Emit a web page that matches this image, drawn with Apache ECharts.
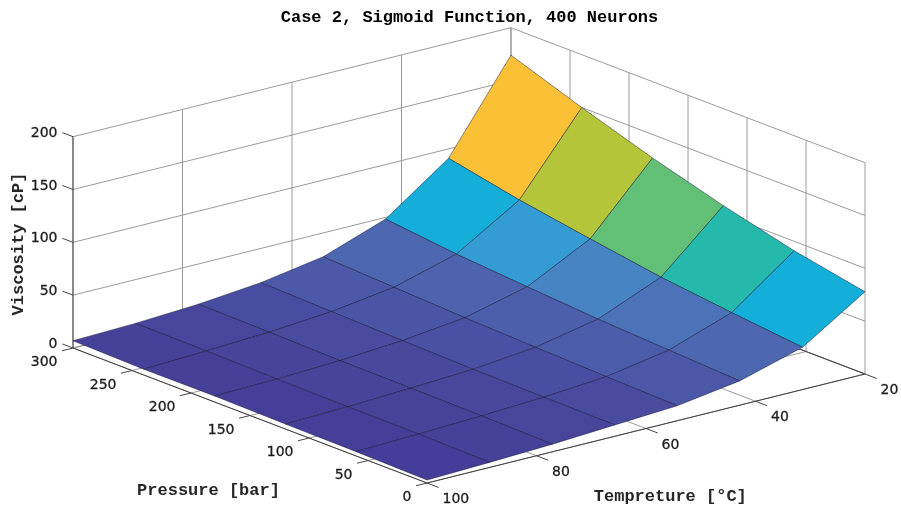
<!DOCTYPE html>
<html><head><meta charset="utf-8">
<style>html,body{margin:0;padding:0;background:#fff}#c{width:901px;height:510px}</style>
<script src="https://cdn.jsdelivr.net/npm/echarts@6/dist/echarts.min.js"></script>
</head><body><div id="c"></div>
<script>
const temperatures = [20, 31.4, 42.9, 54.3, 65.7, 77.1, 88.6, 100];
const pressures = [0, 60, 120, 180, 240, 300];
const viscosityP0   = [77.9, 40.0, 23.0, 14.2, 10.7, 7.2, 4.8, 2.8];
const viscosityP60  = [91.1, 47.2, 26.6, 16.1, 11.4, 8.4, 6.1, 4.1];
const viscosityP120 = [108.2, 55.2, 30.4, 18.4, 12.3, 9.1, 6.3, 4.7];
const viscosityP180 = [127.8, 65.9, 35.4, 20.8, 13.8, 9.6, 7.0, 5.7];
const viscosityP240 = [150.0, 77.2, 40.8, 24.0, 15.7, 11.0, 8.0, 5.5];
const viscosityP300 = [174.0, 91.1, 48.4, 27.4, 17.6, 11.9, 8.6, 6.9];
const viscosityRows = [viscosityP0, viscosityP60, viscosityP120, viscosityP180, viscosityP240, viscosityP300];
const temperatureTicks = [20, 40, 60, 80, 100];
const pressureTicks = [0, 50, 100, 150, 200, 250, 300];
const viscosityTicks = [0, 50, 100, 150, 200];
const titleText = 'Case 2, Sigmoid Function, 400 Neurons';
const pressureName = 'Pressure [bar]';
const temperatureName = 'Tempreture [°C]';
const viscosityName = 'Viscosity [cP]';
const palette = ['#41369a','#474399','#4a50a3','#4b5caa','#4d62ad','#4d6bb3','#4a7dbf','#4190ce','#2aa3d6','#12b0d8','#1ab7b5','#2fbb9f','#52be82','#74c066','#9cc445','#c0c634','#dcc437','#f9c038','#fdc535','#fbd82a','#f9f01e'];

// Orthographic view of the axes box, as an origin and one screen vector per axis.
const origin = [511, 239];               // T=20, P=300, V=0
const tVec = [-438, 109], pVec = [354, 135], vVec = [0, -211.3];
const lm = echarts.number.linearMap;
function project(T, P, V) {
  const u = lm(T, [20, 100], [0, 1]), w = lm(P, [300, 0], [0, 1]), h = lm(V, [0, 200], [0, 1]);
  return [origin[0] + u * tVec[0] + w * pVec[0] + h * vVec[0],
          origin[1] + u * tVec[1] + w * pVec[1] + h * vVec[1]];
}
const colorMax = Math.max(...viscosityRows.flat());

const gridSegs = [];
temperatureTicks.forEach(T => {
  gridSegs.push([T, 300, 0, T, 300, 200]);
  gridSegs.push([T, 300, 0, T, 0, 0]);
});
pressureTicks.forEach(P => {
  gridSegs.push([20, P, 0, 20, P, 200]);
  gridSegs.push([100, P, 0, 20, P, 0]);
});
viscosityTicks.forEach(V => {
  gridSegs.push([100, 300, V, 20, 300, V]);
  gridSegs.push([20, 300, V, 20, 0, V]);
});

const axisSegs = [
  [100, 300, 0, 100, 300, 200],
  [100, 300, 0, 100, 0, 0],
  [100, 0, 0, 20, 0, 0],
  [20, 300, 0, 20, 0, 0]
];
temperatureTicks.forEach(T => axisSegs.push([T, 0, 0, T, -9.9, 0]));
pressureTicks.forEach(P => axisSegs.push([100, P, 0, 102, P, 0]));
viscosityTicks.forEach(V => axisSegs.push([100, 300, V, 100, 309, V]));

const cells = [];
for (let p = pressures.length - 2; p >= 0; p--)
  for (let t = 0; t < temperatures.length - 1; t++) cells.push([t, p]);

const tickFont = '14px "DejaVu Sans"';
const nameFont = 'bold 17px "Liberation Mono"';
const labels = [];
viscosityTicks.forEach(V => labels.push(['v', String(V), 100, 300, V]));
pressureTicks.forEach(P => labels.push(['p', String(P), 100, P, 0]));
temperatureTicks.forEach(T => labels.push(['t', String(T), T, 0, 0]));
const labelOffset = { v: [-15.5, -3.5, 'right'], p: [-15.5, 14.5, 'right'], t: [15.5, 16.5, 'left'] };

function segSeries(data, stroke, width) {
  return {
    type: 'custom', coordinateSystem: 'none', silent: true, animation: false, data,
    renderItem(params, api) {
      const a = project(api.value(0), api.value(1), api.value(2));
      const b = project(api.value(3), api.value(4), api.value(5));
      return { type: 'line', shape: { x1: a[0], y1: a[1], x2: b[0], y2: b[1] },
               style: { stroke, lineWidth: width, fill: null } };
    }
  };
}

const chart = echarts.init(document.getElementById('c'), null, { renderer: 'canvas', width: 901, height: 510 });
chart.setOption({
  animation: false,
  backgroundColor: '#ffffff',
  title: { text: titleText, left: 464.5, top: 4, textAlign: 'center',
           textStyle: { fontFamily: 'Liberation Mono', fontWeight: 'bold', fontSize: 17, color: '#000' } },
  series: [
    segSeries(gridSegs, '#8f8f8f', 0.9),
    segSeries(axisSegs, '#444444', 1),
    {
      type: 'custom', coordinateSystem: 'none', silent: true, animation: false, data: cells,
      renderItem(params, api) {
        const t = api.value(0), p = api.value(1);
        const corner = (a, b) => project(temperatures[a], pressures[b], viscosityRows[b][a]);
        return { type: 'polygon',
          shape: { points: [corner(t, p), corner(t + 1, p), corner(t + 1, p + 1), corner(t, p + 1)] },
          style: { fill: echarts.color.lerp(viscosityRows[p][t] / colorMax, palette),
                   stroke: 'rgba(20,20,50,0.8)', lineWidth: 0.6, lineJoin: 'round' } };
      }
    },
    {
      type: 'custom', coordinateSystem: 'none', silent: true, animation: false,
      data: labels.map((l, i) => [i]),
      renderItem(params) {
        const l = labels[params.dataIndex];
        const o = labelOffset[l[0]];
        const pt = project(l[2], l[3], l[4]);
        return { type: 'text', x: pt[0] + o[0], y: pt[1] + o[1],
          style: { text: l[1], font: tickFont, fill: '#1c1c1c', stroke: '#1c1c1c', lineWidth: 0.3, align: o[2], verticalAlign: 'middle' } };
      }
    }
  ],
  graphic: [
    { type: 'text', x: 208.5, y: 491, silent: true, style: { text: pressureName, font: nameFont, fill: '#262626', align: 'center', verticalAlign: 'middle' } },
    { type: 'text', x: 670.3, y: 497, silent: true, style: { text: temperatureName, font: nameFont, fill: '#262626', align: 'center', verticalAlign: 'middle' } },
    { type: 'text', x: 19, y: 244, rotation: Math.PI / 2, silent: true, style: { text: viscosityName, font: nameFont, fill: '#262626', align: 'center', verticalAlign: 'middle' } }
  ]
});
</script></body></html>
